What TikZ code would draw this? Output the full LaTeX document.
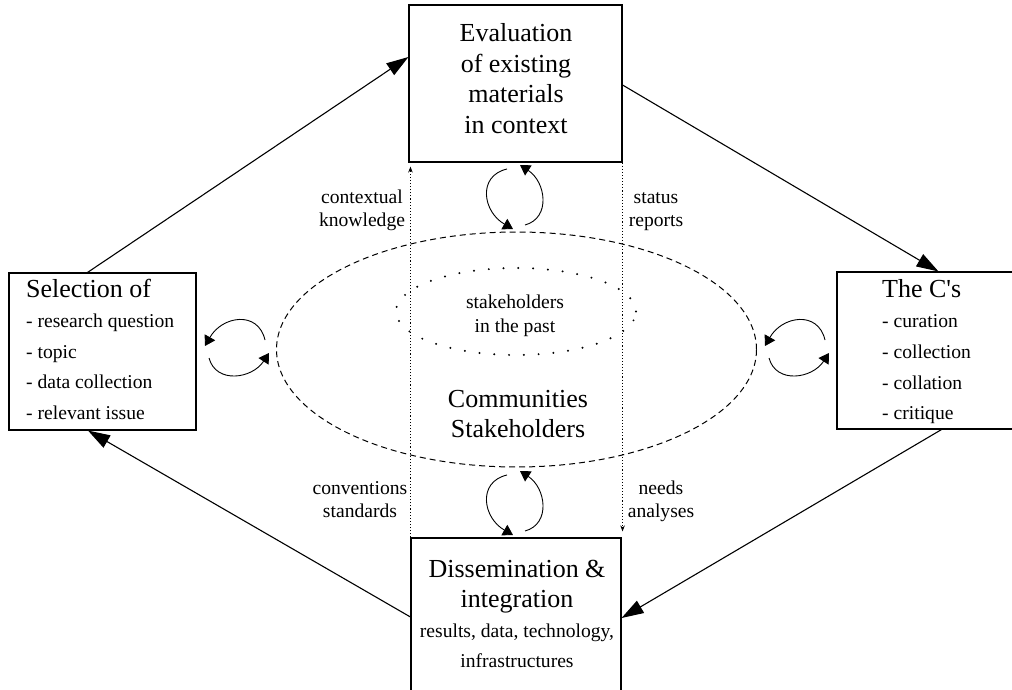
\documentclass[tikz,border=0pt]{standalone}
\usepackage{fontspec}
\setmainfont[Ligatures=TeXOff]{Liberation Serif}
\usetikzlibrary{arrows.meta,shapes.geometric,calc}
\newcommand\bigfont{\fontsize{26}{30.4}\selectfont}
\newcommand\smfont{\fontsize{19.6}{23.3}\selectfont}
\tikzset{
  box/.style={draw, line width=1.1pt, rectangle, inner sep=0pt},
  txt/.style={inner sep=0pt, font=\bigfont},
  stxt/.style={inner sep=0pt, font=\smfont},
  mainarrow/.style={line width=1.1pt, -{Triangle[length=22pt,width=14pt]}},
  cycarrow/.style={line width=0.9pt, -{Triangle[length=10pt,width=12pt]}},
  dotline/.style={line width=1.1pt, dotted, -{Stealth[length=6pt,width=4.5pt]}},
  vcyc/.pic={
    \draw[cycarrow] (-6,-29) .. controls (-36,-22) and (-30,14) .. (0,31);
    \draw[cycarrow] (12,27) .. controls (38,20) and (33,-16) .. (7,-33);
  },
  hcyc/.pic={
    \draw[cycarrow] (29,-6) .. controls (22,-36) and (-14,-30) .. (-31,0);
    \draw[cycarrow] (-27,12) .. controls (-20,38) and (16,33) .. (33,7);
  },
}
\begin{document}
\begin{tikzpicture}[x=1pt,y=-1pt]
\clip (0,0) rectangle (1012,690);
\useasboundingbox (0,0) rectangle (1012,690);

% boxes
\node[box, minimum width=213pt, minimum height=157pt] (top) at (515.5,83.5) {};
\node[box, minimum width=187pt, minimum height=157pt] (left) at (102.5,351.5) {};
\node[box, minimum width=183pt, minimum height=157pt] (right) at (928.5,350.5) {};
\node[box, minimum width=210pt, minimum height=162pt] (bottom) at (516,619) {};

% ellipses
\node[ellipse, draw, dash pattern=on 6pt off 4pt, line width=1pt,
      minimum width=480pt, minimum height=235pt, inner sep=0pt] (comm) at (516.5,349.5) {};
\node[ellipse, draw, line cap=round, dash pattern=on 0pt off 14.8pt, line width=2.2pt,
      minimum width=240pt, minimum height=87pt, inner sep=0pt] (past) at (516,311.5) {};

% main arrows
\draw[mainarrow] ([xshift=-15pt]left.north) -- ([yshift=26.5pt]top.west);
\draw[mainarrow] ([yshift=-1.5pt]top.east) -- ([xshift=10pt]right.north);
\draw[mainarrow] ([xshift=13pt]right.south) -- ([yshift=1pt]bottom.east);
\draw[mainarrow] ([yshift=2pt]bottom.west) -- ([xshift=-14.5pt]left.south);

% dotted info flows
\draw[dotline, shorten >=4pt] (bottom.north west) -- (bottom.north west |- top.south);
\draw[dotline, shorten >=6pt] (top.south east) -- (top.south east |- bottom.north);

% cycle arrows
\coordinate (cycT) at (513,198);
\coordinate (cycB) at (513,504);
\coordinate (cycL) at (236,346);
\coordinate (cycR) at (796,346);
\pic at (cycT) {vcyc};
\pic at (cycB) {vcyc};
\pic at (cycL) {hcyc};
\pic at (cycR) {hcyc};

% texts
\node[txt, anchor=base] (toptext) at (516,42)
  {\begin{tabular}[t]{@{}c@{}}Evaluation\\of existing\\materials\\in context\end{tabular}};
\node[txt, anchor=base west, font=\fontsize{26}{30.5}\selectfont] (lefttext) at (26,297)
  {\begin{tabular}[t]{@{}l@{}}Selection of\\{\smfont - research question}\\{\smfont - topic}\\{\smfont - data collection}\\{\smfont - relevant issue}\end{tabular}};
\node[txt, anchor=base west, font=\fontsize{26}{30.7}\selectfont] (righttext) at (882,297)
  {\begin{tabular}[t]{@{}l@{}}The C's\\{\smfont - curation}\\{\smfont - collection}\\{\smfont - collation}\\{\smfont - critique}\end{tabular}};
\node[txt, anchor=base, font=\fontsize{26}{30.3}\selectfont] (bottomtext) at (517,577)
  {\begin{tabular}[t]{@{}c@{}}Dissemination \&\\integration\\{\smfont results, data, technology,}\\{\smfont infrastructures}\end{tabular}};
\node[txt, anchor=base, font=\fontsize{26}{30}\selectfont] (commtext) at (518,407)
  {\begin{tabular}[t]{@{}c@{}}Communities\\Stakeholders\end{tabular}};
\node[stxt, anchor=base, font=\fontsize{19.6}{24}\selectfont] (pasttext) at (515,308)
  {\begin{tabular}[t]{@{}c@{}}stakeholders\\in the past\end{tabular}};
\node[stxt, anchor=base] (ctx) at (362,203)
  {\begin{tabular}[t]{@{}c@{}}contextual\\knowledge\end{tabular}};
\node[stxt, anchor=base] (status) at (656,203)
  {\begin{tabular}[t]{@{}c@{}}status\\reports\end{tabular}};
\node[stxt, anchor=base, font=\fontsize{19.6}{23.5}\selectfont] (conv) at (360,494)
  {\begin{tabular}[t]{@{}c@{}}conventions\\standards\end{tabular}};
\node[stxt, anchor=base, font=\fontsize{19.6}{23.5}\selectfont] (needs) at (661,494)
  {\begin{tabular}[t]{@{}c@{}}needs\\analyses\end{tabular}};
\end{tikzpicture}
\end{document}
